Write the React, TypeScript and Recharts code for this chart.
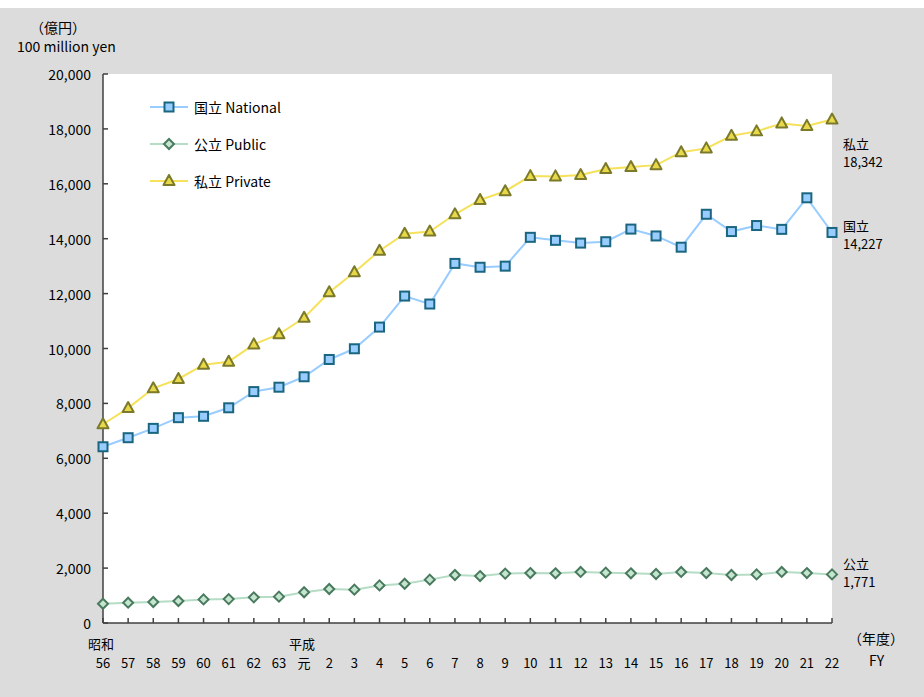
import { LineChart, Line, XAxis, YAxis, CartesianGrid, Legend } from "recharts";

const years = ["56", "57", "58", "59", "60", "61", "62", "63", "元", "2", "3", "4", "5", "6", "7", "8", "9", "10", "11", "12", "13", "14", "15", "16", "17", "18", "19", "20", "21", "22"];
const eraNames: Record<string, string> = { "56": "昭和", "元": "平成" };

const national = [6420, 6750, 7090, 7480, 7530, 7840, 8430, 8590, 8970, 9600, 9990, 10780, 11910, 11620, 13100, 12960, 13000, 14050, 13940, 13840, 13890, 14350, 14100, 13690, 14890, 14260, 14480, 14340, 15490, 14227];
const publicU = [700, 740, 765, 800, 860, 870, 935, 960, 1120, 1240, 1215, 1370, 1430, 1580, 1750, 1710, 1800, 1820, 1810, 1860, 1835, 1810, 1785, 1860, 1820, 1750, 1770, 1860, 1820, 1771];
const privateU = [7240, 7830, 8550, 8890, 9410, 9520, 10150, 10520, 11120, 12050, 12780, 13560, 14180, 14260, 14890, 15410, 15730, 16280, 16270, 16320, 16540, 16610, 16680, 17150, 17290, 17750, 17910, 18200, 18110, 18342];

const yTicks = [0, 2000, 4000, 6000, 8000, 10000, 12000, 14000, 16000, 18000, 20000];

const data = years.map((y, i) => ({ year: y, national: national[i], public: publicU[i], private: privateU[i] }));

const FONT = "'Noto Sans CJK JP', 'Noto Sans', sans-serif";
const AXIS = "#404040";

const SERIES = [
  { key: "national", name: "国立 National", short: "国立", line: "#99ccff", fill: "#99ccff", stroke: "#1a6680", shape: "square", dy: [-7, 11] },
  { key: "public", name: "公立 Public", short: "公立", line: "#b5dcc5", fill: "#c4e6d0", stroke: "#4a7a5e", shape: "diamond", dy: [-11, 7] },
  { key: "private", name: "私立 Private", short: "私立", line: "#f5e15a", fill: "#e8d84a", stroke: "#7a7a2a", shape: "triangle", dy: [24, 42] },
];

function Marker({ shape, cx, cy, fill, stroke }: { shape: string; cx: number; cy: number; fill: string; stroke: string }) {
  if (shape === "square") {
    return <rect x={cx - 4.5} y={cy - 4.5} width={9} height={9} fill={fill} stroke={stroke} strokeWidth={2} />;
  }
  if (shape === "diamond") {
    return <polygon points={`${cx},${cy - 5} ${cx + 5},${cy} ${cx},${cy + 5} ${cx - 5},${cy}`} fill={fill} stroke={stroke} strokeWidth={2} />;
  }
  return <polygon points={`${cx},${cy - 6} ${cx + 5.5},${cy + 4} ${cx - 5.5},${cy + 4}`} fill={fill} stroke={stroke} strokeWidth={2} strokeLinejoin="round" />;
}

function YTick(props: any) {
  const { x, y, payload } = props;
  return (
    <g>
      <line x1={x} y1={y} x2={x + 5} y2={y} stroke={AXIS} strokeWidth={1.5} />
      <text x={x - 12} y={y} textAnchor="end" dominantBaseline="central" fontSize={14} fill="#000" fontFamily={FONT}>
        {payload.value.toLocaleString("en-US")}
      </text>
    </g>
  );
}

function XTick(props: any) {
  const { x, y, payload } = props;
  const era = eraNames[payload.value];
  return (
    <g>
      <line x1={x} y1={y} x2={x} y2={y - 5} stroke={AXIS} strokeWidth={1.5} />
      {era && (
        <text x={x - 2} y={y + 20} textAnchor="middle" dominantBaseline="central" fontSize={13} fill="#000" fontFamily={FONT}>
          {era}
        </text>
      )}
      <text x={x} y={y + 39} textAnchor="middle" dominantBaseline="central" fontSize={13} fill="#000" fontFamily={FONT}>
        {payload.value}
      </text>
    </g>
  );
}

function LegendBox() {
  return (
    <div style={{ fontFamily: FONT, fontSize: 14 }}>
      {SERIES.map((s) => (
        <div key={s.key} style={{ display: "flex", alignItems: "center", height: 37 }}>
          <svg width={44} height={14}>
            <line x1={0} y1={7} x2={38} y2={7} stroke={s.line} strokeWidth={2} />
            <Marker shape={s.shape} cx={19} cy={7} fill={s.fill} stroke={s.stroke} />
          </svg>
          <span style={{ color: "#000" }}>{s.name}</span>
        </div>
      ))}
    </div>
  );
}

export default function App() {
  const last = years.length - 1;
  return (
    <div style={{ position: "absolute", left: 0, top: 0, width: 924, height: 697, background: "#fff" }}>
      <div style={{ position: "absolute", left: 0, top: 8, width: 924, height: 689, background: "#dcdcdc" }} />
      <div style={{ position: "absolute", left: 0, top: 0, fontFamily: FONT, fontSize: 14, color: "#000" }}>
        <div style={{ position: "absolute", left: 30, top: 17, whiteSpace: "nowrap" }}>（億円）</div>
        <div style={{ position: "absolute", left: 17, top: 36, whiteSpace: "nowrap" }}>100 million yen</div>
        <div style={{ position: "absolute", left: 848, top: 628, whiteSpace: "nowrap" }}>（年度）</div>
        <div style={{ position: "absolute", left: 869, top: 650, whiteSpace: "nowrap" }}>FY</div>
      </div>
      <div style={{ position: "absolute", left: 0, top: 0 }}>
        <LineChart width={924} height={697} data={data} margin={{ top: 74, right: 92, bottom: 0, left: 0 }}>
          <CartesianGrid horizontal={false} vertical={false} fill="#fff" />
          <XAxis
            dataKey="year"
            interval={0}
            height={74}
            tickSize={0}
            tickMargin={0}
            tickLine={false}
            tick={<XTick />}
            axisLine={{ stroke: AXIS, strokeWidth: 1.5 }}
          />
          <YAxis
            width={103}
            domain={[0, 20000]}
            ticks={yTicks}
            interval={0}
            tickSize={0}
            tickMargin={0}
            tickLine={false}
            tick={<YTick />}
            axisLine={{ stroke: AXIS, strokeWidth: 1.5 }}
          />
          <Legend
            layout="vertical"
            align="center"
            verticalAlign="middle"
            content={() => <LegendBox />}
            wrapperStyle={{ position: "absolute", left: 150, top: 88, width: 200, height: 120 }}
          />
          {SERIES.map((s) => (
            <Line
              key={s.key}
              dataKey={s.key}
              name={s.name}
              stroke={s.line}
              strokeWidth={2}
              isAnimationActive={false}
              dot={(p: any) => <Marker key={`${s.key}-${p.index}`} shape={s.shape} cx={p.cx} cy={p.cy} fill={s.fill} stroke={s.stroke} />}
              activeDot={false}
              label={(p: any) =>
                p.index === last ? (
                  <g key={`${s.key}-lbl`}>
                    <text x={843} y={p.y + s.dy[0]} dominantBaseline="central" fontSize={13} fill="#000" fontFamily={FONT}>
                      {s.short}
                    </text>
                    <text x={843} y={p.y + s.dy[1]} dominantBaseline="central" fontSize={13} fill="#000" fontFamily={FONT}>
                      {Number(p.value).toLocaleString("en-US")}
                    </text>
                  </g>
                ) : (
                  <g key={`${s.key}-lbl-${p.index}`} />
                )
              }
            />
          ))}
        </LineChart>
      </div>
    </div>
  );
}
